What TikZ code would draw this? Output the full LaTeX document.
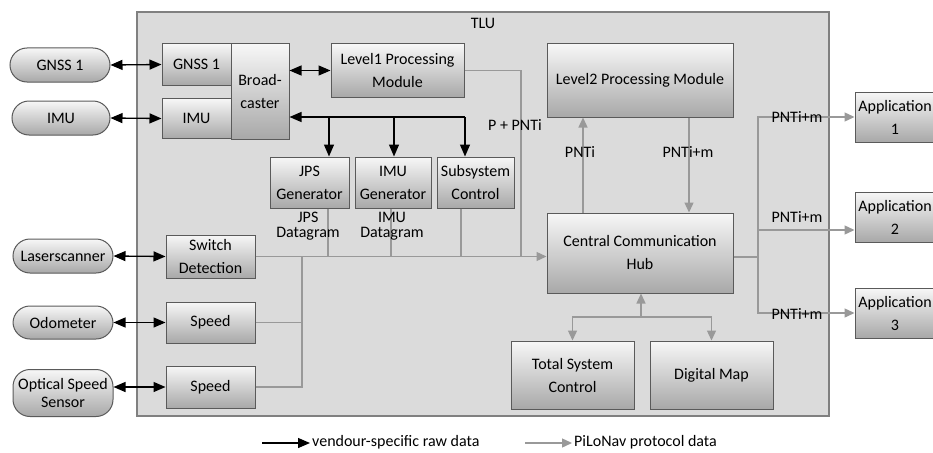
\documentclass[tikz,border=0pt]{standalone}
\usepackage{fontspec}
\setmainfont{Carlito}
\usetikzlibrary{arrows.meta,calc}
\definecolor{framefill}{HTML}{DBDBDB}
\definecolor{frameline}{HTML}{808080}
\definecolor{boxline}{HTML}{5A5A5A}
\definecolor{boxtop}{HTML}{F7F7F7}
\definecolor{boxbot}{HTML}{A8A8A8}
\definecolor{protocol}{HTML}{999999}
\begin{document}
\begin{tikzpicture}[x=1pt,y=-1pt,
  sz/.style 2 args={minimum width=#1pt, minimum height=#2pt},
  txt/.style={font=\fontsize{16}{23}\selectfont, align=center, inner sep=0pt},
  box/.style={txt, draw=boxline, line width=1pt, top color=boxtop, bottom color=boxbot},
  pill/.style={box, rounded corners=17pt},
  tluframe/.style={draw=frameline, line width=1.2pt, fill=framefill, inner sep=0pt},
  lbl/.style={txt},
  dlbl/.style={txt, font=\fontsize{16}{15}\selectfont},
  rawtip/.tip={Triangle[length=12pt,width=10pt]},
  raw/.style={black, line width=1.3pt, -rawtip},
  rawboth/.style={black, line width=1.3pt, rawtip-rawtip},
  protoline/.style={protocol, line width=1.3pt},
  proto/.style={protoline, -{Triangle[length=10pt,width=9pt]}}
]
\useasboundingbox (0,0) rectangle (933,452);

% TLU frame
\node[tluframe, sz={692}{404}] (tlu) at (483,214) {};
\node[lbl] (tlulabel) at (483,23) {TLU};

% external sensors
\node[pill, sz={100}{34}] (gnssE) at (60,65) {GNSS 1};
\node[pill, sz={98}{34}] (imuE) at (61,118) {IMU};
\node[pill, sz={100}{34}] (laser) at (63,256) {Laserscanner};
\node[pill, sz={100}{33}] (odo) at (63,322.5) {Odometer};
\node[pill, sz={100}{47}, font=\fontsize{16}{18}\selectfont] (oss) at (63,393) {Optical Speed\\Sensor};

% inner boxes left
\node[box, sz={69}{41}] (gnssI) at (196.5,64.5) {GNSS 1};
\node[box, sz={69}{40}] (imuI) at (196.5,118.5) {IMU};
\node[box, sz={58}{95}] (bc) at (260,91.5) {Broad-\\caster};
\node[box, sz={133}{53}] (l1) at (397.5,70.5) {Level1 Processing\\Module};
\node[box, sz={79}{51}] (jpsg) at (309.5,182.5) {JPS\\Generator};
\node[box, sz={76}{51}] (imug) at (393,182.5) {IMU\\Generator};
\node[box, sz={77}{51}] (subs) at (475.5,182.5) {Subsystem\\Control};
\node[box, sz={89}{43}] (swd) at (210.5,256.5) {Switch\\Detection};
\node[box, sz={89}{41}] (sp1) at (210.5,322.5) {Speed};
\node[box, sz={89}{42}] (sp2) at (210.5,387) {Speed};

% right part
\node[box, sz={186}{73}] (l2) at (640,80.5) {Level2 Processing Module};
\node[box, sz={186}{80}] (hub) at (640,253) {Central Communication\\Hub};
\node[box, sz={123}{68}] (tsc) at (572.5,375) {Total System\\Control};
\node[box, sz={123}{68}] (dmap) at (711.5,375) {Digital Map};
\node[box, sz={80}{50}] (app1) at (895,117) {Application\\1};
\node[box, sz={80}{50}] (app2) at (895,217) {Application\\2};
\node[box, sz={80}{50}] (app3) at (895,313) {Application\\3};

% black raw-data connectors
\draw[rawboth] (gnssE.east) -- (gnssI.west);
\draw[rawboth] (imuE.east) -- (imuI.west);
\draw[rawboth] (laser.east) -- (swd.west);
\draw[rawboth] (odo.east) -- (sp1.west);
\draw[rawboth] (sp2.west -| oss.east) -- (sp2.west);
\draw[rawboth] (bc.east |- l1.west) -- (l1.west);
\coordinate (b1) at (329,117);
\coordinate (b2) at (394,117);
\coordinate (b3) at (465,117);
\draw[raw] (b3) -- (b3 -| bc.east);
\draw[raw] (b1) -- (b1 |- jpsg.north);
\draw[raw] (b2) -- (b2 |- imug.north);
\draw[raw] (b3) -- (b3 |- subs.north);

% grey protocol connectors
\coordinate (vj) at (328,257);
\coordinate (vi) at (391,257);
\coordinate (vs) at (461,257);
\coordinate (vl) at (521,257);
\coordinate (vsp) at (302,257);
\draw[proto] (swd.east) -- (swd.east -| hub.west);
\draw[protoline] (vj |- jpsg.south) -- (vj);
\draw[protoline] (vi |- imug.south) -- (vi);
\draw[protoline] (vs |- subs.south) -- (vs);
\draw[protoline] (l1.east) -| (vl);
\draw[protoline] (sp1.east) -- (sp1.east -| vsp);
\draw[protoline] (sp2.east) -| (vsp);

\coordinate (u1) at (583,0);
\coordinate (u2) at (689,0);
\draw[proto] (u1 |- hub.north) -- (u1 |- l2.south);
\draw[proto] (u2 |- l2.south) -- (u2 |- hub.north);

\coordinate (hv) at (758,257);
\coordinate (a2) at (758,230);
\draw[protoline] (hv -| hub.east) -- (hv);
\draw[proto] (hv) |- (app1.west);
\draw[proto] (hv) |- (app3.west);
\draw[proto] (a2) -- (a2 -| app2.west);

\coordinate (hb) at (641,317);
\draw[proto] (hb) -- (hb |- hub.south);
\draw[proto] (hb) -| (tsc.north);
\draw[proto] (hb) -| (dmap.north);

% labels
\node[dlbl] (jpsd) at (308,226.5) {JPS\\Datagram};
\node[dlbl] (imud) at (392,226.5) {IMU\\Datagram};
\node[lbl] (ppnti) at (515,125) {P + PNTi};
\node[lbl] (pnti) at (580,152) {PNTi};
\node[lbl] (pntim) at (688,152) {PNTi+m};
\node[lbl] (pa1) at (797,117) {PNTi+m};
\node[lbl] (pa2) at (797,217) {PNTi+m};
\node[lbl] (pa3) at (797,314) {PNTi+m};

% legend
\coordinate (lg1) at (262,443);
\coordinate (lg2) at (525,443);
\node[lbl, anchor=west, inner sep=2pt] (lgt1) at (310,442) {vendour-specific raw data};
\node[lbl, anchor=west, inner sep=2pt] (lgt2) at (572,442) {PiLoNav protocol data};
\draw[raw] (lg1) -- (lg1 -| lgt1.west);
\draw[proto] (lg2) -- (lg2 -| lgt2.west);
\end{tikzpicture}
\end{document}
